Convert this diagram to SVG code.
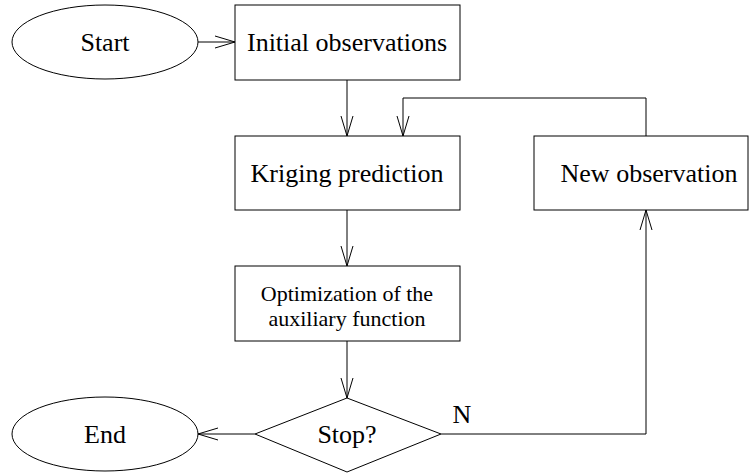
<svg xmlns="http://www.w3.org/2000/svg" width="749" height="475" viewBox="0 0 749 475">
<defs>
<style>
.shape{fill:#fff;stroke:#000;stroke-width:1}
.edge{fill:none;stroke:#000;stroke-width:1}
.t{font-family:"Liberation Serif","Times New Roman",serif;font-size:26px;fill:#000;text-anchor:middle;dominant-baseline:central}
.s{font-size:22px}
</style>
<marker id="arr" markerUnits="userSpaceOnUse" markerWidth="22" markerHeight="14" viewBox="0 0 22 14" refX="21" refY="7" orient="auto">
<path d="M1,1 L21,7 L1,13" fill="none" stroke="#000" stroke-width="1"/>
</marker>
</defs>
<g id="connectors">
<line class="edge" x1="198" y1="42" x2="235" y2="42" marker-end="url(#arr)"/>
<line class="edge" x1="347" y1="80" x2="347" y2="136" marker-end="url(#arr)"/>
<polyline class="edge" points="646,136 646,98 403,98 403,136" marker-end="url(#arr)"/>
<line class="edge" x1="347" y1="210" x2="347" y2="266" marker-end="url(#arr)"/>
<line class="edge" x1="347" y1="341" x2="347" y2="398" marker-end="url(#arr)"/>
<line class="edge" x1="255" y1="434" x2="198" y2="434" marker-end="url(#arr)"/>
<polyline class="edge" points="441,434 646,434 646,210" marker-end="url(#arr)"/>
<text class="t" x="462" y="414">N</text>
</g>
<g id="start"><ellipse class="shape" cx="105" cy="42" rx="93" ry="37"/><text class="t" x="105" y="42">Start</text></g>
<g id="initial"><rect class="shape" x="235" y="5" width="225" height="75"/><text class="t" x="347" y="42">Initial observations</text></g>
<g id="kriging"><rect class="shape" x="235" y="136" width="225" height="74"/><text class="t" x="347" y="173">Kriging prediction</text></g>
<g id="newobs"><rect class="shape" x="534" y="136" width="214" height="74"/><text class="t" x="649" y="173">New observation</text></g>
<g id="optim"><rect class="shape" x="235" y="266" width="225" height="75"/><text class="t s" x="347" y="293">Optimization of the</text><text class="t s" x="347" y="318">auxiliary function</text></g>
<g id="stop"><polygon class="shape" points="347,398 441,434 347,472 255,434"/><text class="t" x="347" y="434">Stop?</text></g>
<g id="end"><ellipse class="shape" cx="105" cy="434" rx="93" ry="37"/><text class="t" x="105" y="434">End</text></g>
</svg>
